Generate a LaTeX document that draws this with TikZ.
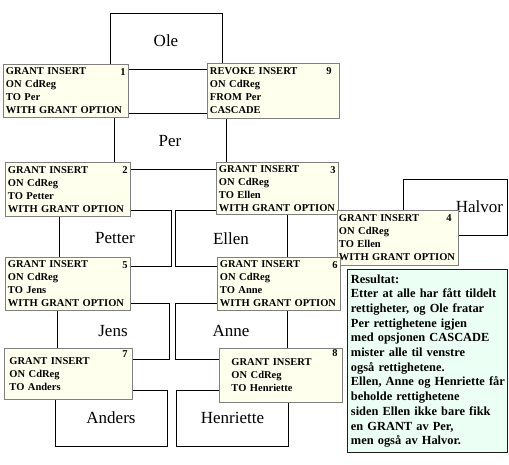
\documentclass[tikz,border=0pt]{standalone}
\usepackage{fontspec}
\setmainfont{Liberation Serif}
\usetikzlibrary{positioning}
\definecolor{CdCream}{RGB}{255,255,238}
\definecolor{CdGray}{RGB}{128,128,128}
\definecolor{CdMint}{RGB}{236,255,245}
\definecolor{CdDark}{RGB}{30,30,30}
\tikzset{
  cd/person/.style={
    draw=black,
    line width=0.9pt,
    minimum width=112pt,
    minimum height=56pt,
    inner sep=0pt,
    font=\fontsize{17}{19}\selectfont
  },
  cd/grant/.style={
    draw=CdGray,
    line width=0.9pt,
    fill=CdCream,
    anchor=north west,
    align=left,
    inner xsep=2.5pt,
    inner ysep=1pt,
    font=\bfseries\fontsize{10.5}{13}\selectfont
  },
  cd/num/.style={
    anchor=north east,
    inner xsep=3pt,
    inner ysep=4pt,
    font=\bfseries\fontsize{10.5}{13}\selectfont
  },
  cd/note/.style={
    draw=CdDark,
    line width=0.9pt,
    fill=CdMint,
    anchor=north west,
    align=left,
    inner xsep=3.5pt,
    inner ysep=2pt,
    font=\bfseries\fontsize{12.4}{14.7}\selectfont
  }
}

\begin{document}
\begin{tikzpicture}[x=1pt,y=-1pt]
  \useasboundingbox (0,0) rectangle (509,465);
  % the users
  \node[cd/person] (ole) at (166,41) {Ole};
  \node[cd/person] (per) at (170,141) {Per};
  \node[cd/person] (petter) at (115,238.5) {Petter};
  \node[cd/person] (ellen) at (231,238.5) {Ellen};
  \node[cd/person,minimum width=104pt,text width=96pt,align=right] (halvor) at (455,207) {Halvor};
  \node[cd/person] (jens) at (113,331) {Jens};
  \node[cd/person] (anne) at (231,331) {Anne};
  \node[cd/person] (anders) at (111,418) {Anders};
  \node[cd/person] (henriette) at (232.5,418) {Henriette};
  % the statements
  \node[cd/grant,text width=120pt,minimum height=53pt] (g1) at (3,64) {GRANT INSERT\\ON CdReg\\TO Per\\WITH GRANT OPTION};
  \node[cd/num] (n1) at (g1.north east) {1};
  \node[cd/grant,text width=127pt,minimum height=55pt] (g9) at (207,63) {REVOKE INSERT\\ON CdReg\\FROM Per\\CASCADE};
  \node[cd/num,xshift=-5pt] (n9) at (g9.north east) {9};
  \node[cd/grant,text width=120pt,minimum height=54pt] (g2) at (5,162) {GRANT INSERT\\ON CdReg\\TO Petter\\WITH GRANT OPTION};
  \node[cd/num] (n2) at (g2.north east) {2};
  \node[cd/grant,text width=117pt,minimum height=52pt] (g3) at (216,162) {GRANT INSERT\\ON CdReg\\TO Ellen\\\mbox{WITH GRANT OPTION}};
  \node[cd/num] (n3) at (g3.north east) {3};
  \node[cd/grant,inner xsep=1.5pt,text width=118pt,minimum height=55pt] (g4) at (337,210) {GRANT INSERT\\ON CdReg\\TO Ellen\\\mbox{WITH GRANT OPTION}};
  \node[cd/num,xshift=-4pt] (n4) at (g4.north east) {4};
  \node[cd/grant,text width=120pt,minimum height=53pt] (g5) at (5,257) {GRANT INSERT\\ON CdReg\\TO Jens\\WITH GRANT OPTION};
  \node[cd/num] (n5) at (g5.north east) {5};
  \node[cd/grant,text width=118pt,minimum height=53pt] (g6) at (217,257) {GRANT INSERT\\ON CdReg\\TO Anne\\\mbox{WITH GRANT OPTION}};
  \node[cd/num] (n6) at (g6.north east) {6};
  \node[cd/grant,inner xsep=5pt,text width=118pt,minimum height=51pt] (g7) at (4,348) {GRANT INSERT\\ON CdReg\\TO Anders};
  \node[cd/num,inner xsep=5pt,inner ysep=2pt] (n7) at (g7.north east) {7};
  \node[cd/grant,inner xsep=12pt,text width=99pt,minimum height=54pt] (g8) at (219,348) {GRANT INSERT\\ON CdReg\\TO Henriette};
  \node[cd/num,inner xsep=5pt,inner ysep=1pt] (n8) at (g8.north east) {8};
  % the result
  \node[cd/note,text width=153pt,minimum height=183pt] (result) at (347,269) {Resultat:\\Etter at alle har fått tildelt\\rettigheter, og Ole fratar\\Per rettighetene igjen\\med opsjonen CASCADE\\mister alle til venstre\\også rettighetene.\\\mbox{Ellen, Anne og Henriette får}\\beholde rettighetene\\siden Ellen ikke bare fikk\\en GRANT av Per,\\men også av Halvor.};
\end{tikzpicture}
\end{document}
